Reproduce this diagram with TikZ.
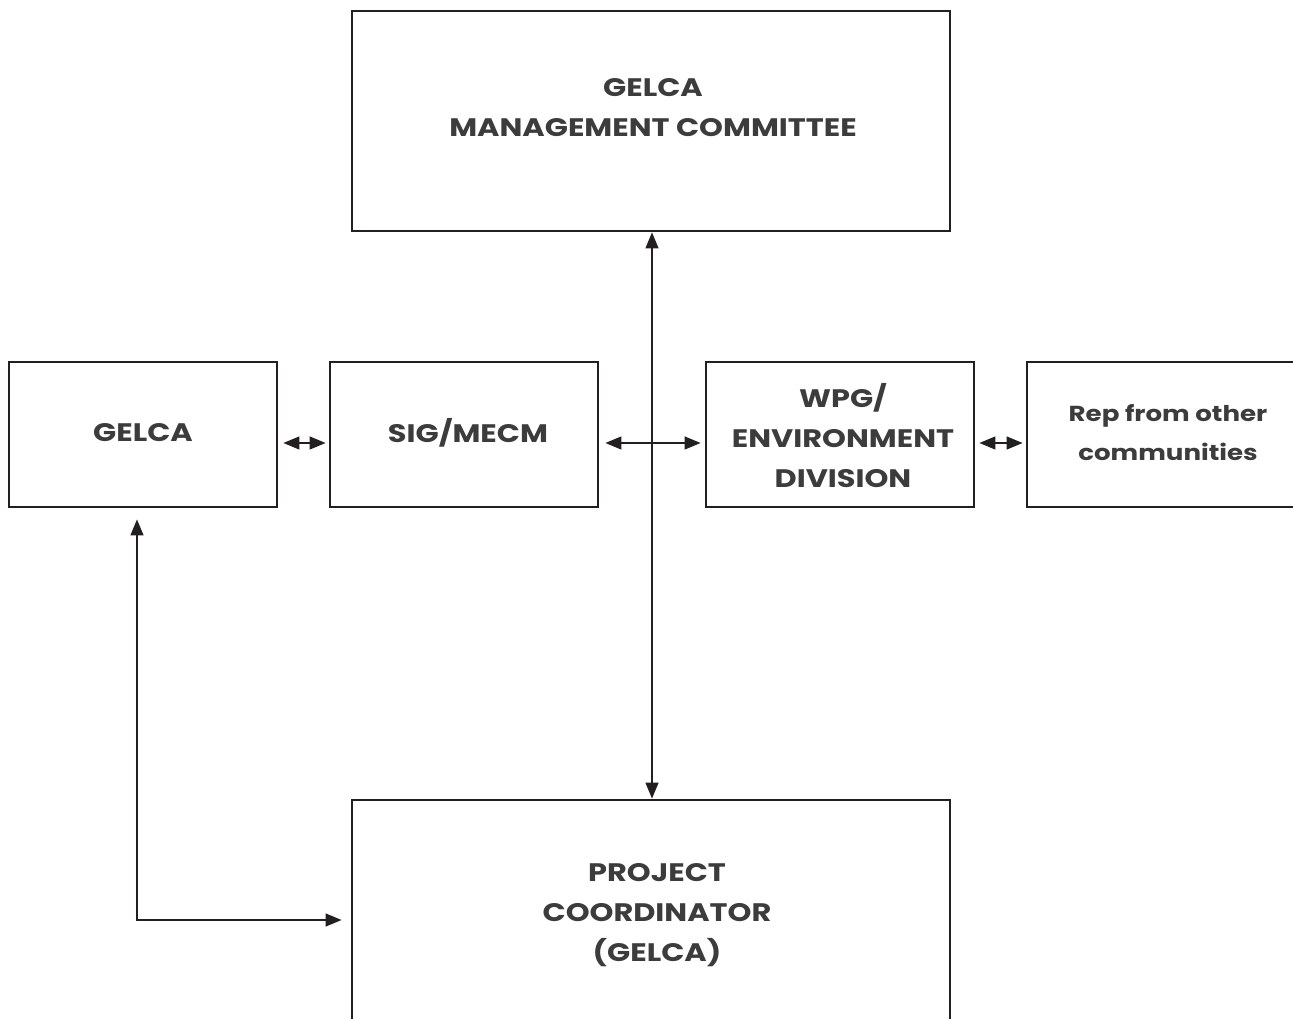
\documentclass[tikz,border=0pt]{standalone}
\usepackage{fontspec}
\setmainfont{Poppins}[FakeStretch=1.2]
\usetikzlibrary{arrows.meta,calc}
\definecolor{linec}{HTML}{231F20}
\definecolor{textc}{HTML}{3C3C3C}
\begin{document}
\begin{tikzpicture}[x=0.75pt,y=-0.75pt,
  box/.style={draw=linec,line width=2pt,minimum width=201pt,minimum height=108.75pt,inner sep=0pt},
  bigbox/.style={draw=linec,line width=2pt,minimum width=448.5pt,minimum height=165pt,inner sep=0pt},
  txt/.style={text=textc,font=\fontsize{19}{30}\selectfont\bfseries,align=center,inner sep=0pt},
  smalltxt/.style={text=textc,font=\fontsize{16.3}{29.5}\selectfont\bfseries,align=center,inner sep=0pt},
  conn/.style={draw=linec,line width=1.6pt,{Triangle[length=12pt,width=9.5pt]}-{Triangle[length=12pt,width=9.5pt]}}
]
\clip (0,0) rectangle (1293,1019);
\useasboundingbox (0,0) rectangle (1293,1019);
\fill[white] (0,0) rectangle (1293,1019);

\node[bigbox] (top) at (651,121) {};
\node[bigbox] (bot) at (651,910) {};
\node[box] (gelca) at (143,434.5) {};
\node[box] (sig) at (464,434.5) {};
\node[box] (wpg) at (840,434.5) {};
\node[box] (rep) at (1161,434.5) {};

\node[txt] (toptxt) at (653,108) {GELCA\\MANAGEMENT COMMITTEE};
\node[txt] (bottxt) at (657,915) {PROJECT\\COORDINATOR\\(GELCA)};
\node[txt] (gelcatxt) at (143,433) {GELCA};
\node[txt] (sigtxt) at (468,433) {SIG/MECM};
\node[txt] (wpgtxt) at (843,436) {WPG/\\ENVIRONMENT\\DIVISION};
\node[smalltxt] (reptxt) at (1168,432.5) {Rep from other\\communities};

\draw[conn] (top.south -| 652,0) -- (bot.north -| 652,0);
\draw[conn] ($(sig.east)+(6,8.5)$) -- ($(wpg.west)+(-4,8.5)$);
\draw[conn] ($(gelca.east)+(5,8.5)$) -- ($(sig.west)+(-3,8.5)$);
\draw[conn] ($(wpg.east)+(4,8.5)$) -- ($(rep.west)+(-3,8.5)$);
\coordinate (corner) at (137,920);
\draw[conn] ($(gelca.south -| corner)+(0,11)$) -- (corner) -- ($(corner -| bot.west)+(-9,0)$);
\end{tikzpicture}
\end{document}
